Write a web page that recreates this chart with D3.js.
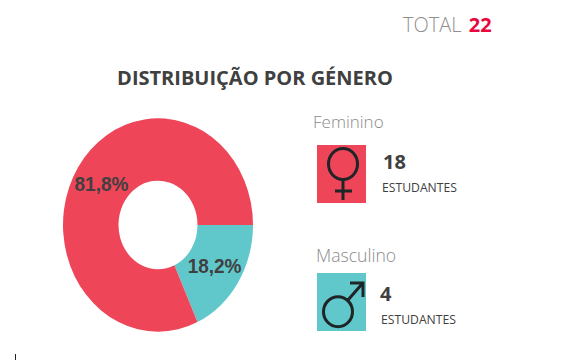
<!DOCTYPE html>
<html>
<head>
<meta charset="utf-8">
<script src="https://cdn.jsdelivr.net/npm/d3@7/dist/d3.min.js"></script>
<style>
	html, body { margin: 0; padding: 0; background: #fff; }
	svg { display: block; }
	text { font-family: "Open Sans", sans-serif; }
</style>
</head>
<body>
<div id="chart"></div>
<script>
const categories = ['Masculino', 'Feminino'];
const values = [4, 18];
const colors = ['#60c8cb', '#ef4559'];
const totalLabel = 'TOTAL';
const totalValue = 22;
const chartTitle = 'DISTRIBUIÇÃO POR GÉNERO';
const unitLabel = 'ESTUDANTES';

const width = 570;
const height = 360;
const outerRadius = 95;
const innerRadius = 39.5;
const squash = 1.123; // the source image is stretched vertically

const svg = d3.select('#chart').append('svg')
	.attr('width', width)
	.attr('height', height);

// header
const total = svg.append('text')
	.attr('x', 403)
	.attr('y', 32)
	.style('font-size', '20px');
total.append('tspan')
	.style('fill', '#8f8f8f')
	.style('font-weight', 300)
	.text(totalLabel + ' ');
total.append('tspan')
	.attr('dx', 2)
	.style('fill', '#e8063c')
	.style('font-weight', 700)
	.text(totalValue);

svg.append('text')
	.attr('x', 255)
	.attr('y', 85)
	.style('text-anchor', 'middle')
	.style('font-size', '20px')
	.style('font-weight', 700)
	.style('fill', '#404040')
	.text(chartTitle);

// donut
const pie = d3.pie()
	.sort(null)
	.startAngle(Math.PI / 2)
	.endAngle(Math.PI / 2 + 2 * Math.PI);
const arc = d3.arc()
	.innerRadius(innerRadius)
	.outerRadius(outerRadius);
const pct = d => d3.format('.1f')(d).replace('.', ',') + '%';

const donut = svg.append('g')
	.attr('transform', 'translate(158, 225)');
const slices = pie(values);
donut.selectAll('path')
	.data(slices)
	.enter().append('path')
		.attr('transform', `scale(1, ${squash})`)
		.attr('d', arc)
		.style('fill', (d, i) => colors[i]);
donut.selectAll('text')
	.data(slices)
	.enter().append('text')
		.attr('transform', (d) => {
			const c = arc.centroid(d);
			return `translate(${c[0]}, ${c[1] * squash}) scale(1, 1.05)`;
		})
		.attr('dy', '.35em')
		.style('text-anchor', 'middle')
		.style('font-family', '"Liberation Sans", sans-serif')
		.style('font-size', '19px')
		.style('font-weight', 700)
		.style('fill', '#404040')
		.text(d => pct(100 * d.value / totalValue));

// legend, feminino on top
const legendOrder = [1, 0];
const legendY = d3.scaleOrdinal().domain(legendOrder).range([0, 128]);
const legend = svg.selectAll('.legend')
	.data(legendOrder)
	.enter().append('g')
		.attr('class', 'legend')
		.attr('transform', d => `translate(317, ${145 + legendY(d)})`);
legend.append('rect')
	.attr('width', 49)
	.attr('height', 58)
	.style('fill', d => colors[d]);
legend.append('text')
	.attr('x', d => (d === 1 ? -4 : -1))
	.attr('y', d => (d === 1 ? -17 : -11))
	.style('font-size', d => (d === 1 ? '17px' : '17.6px'))
	.style('font-weight', 300)
	.style('fill', '#8a8a8a')
	.text(d => categories[d]);
legend.append('text')
	.attr('x', d => (d === 1 ? 66 : 63))
	.attr('y', d => (d === 1 ? 24 : 28))
	.style('font-size', '20px')
	.style('font-weight', 700)
	.style('fill', '#404040')
	.text(d => values[d]);
legend.append('text')
	.attr('x', d => (d === 1 ? 65 : 64))
	.attr('y', d => (d === 1 ? 47 : 51))
	.style('font-size', '12.2px')
	.style('fill', '#404040')
	.text(unitLabel);

// gender symbols
const symbol = legend.append('g')
	.style('fill', 'none')
	.style('stroke', '#1f2427')
	.style('stroke-width', 3);
symbol.filter(d => d === 1).each(function () {
	const g = d3.select(this);
	g.append('ellipse').attr('cx', 26).attr('cy', 19).attr('rx', 14.5).attr('ry', 15.5);
	g.append('path').attr('d', 'M26,35V55M18,46H35');
});
symbol.filter(d => d === 0).each(function () {
	const g = d3.select(this);
	g.append('ellipse').attr('cx', 21).attr('cy', 38.7).attr('rx', 14.5).attr('ry', 15);
	g.append('path').attr('d', 'M31,27L45,11M33,10H46V24');
});

// stray tick at the bottom edge of the source image
svg.append('line')
	.attr('x1', 15.5)
	.attr('x2', 15.5)
	.attr('y1', 354)
	.attr('y2', height)
	.style('stroke', '#222');
</script>
</body>
</html>
